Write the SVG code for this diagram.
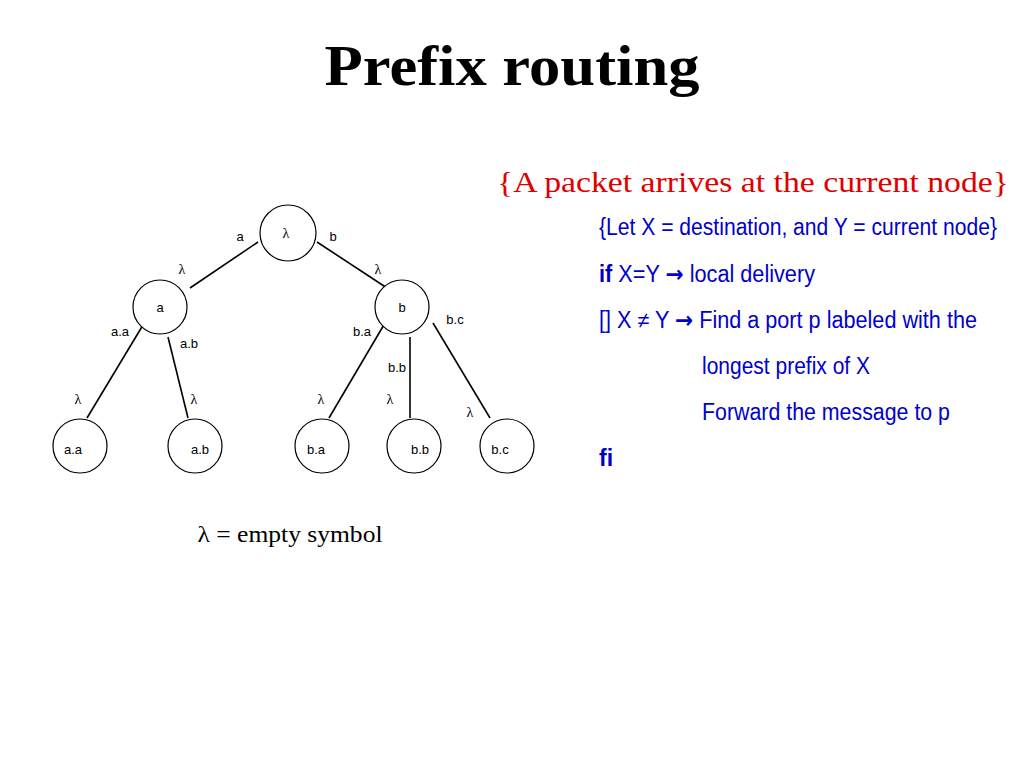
<svg xmlns="http://www.w3.org/2000/svg" width="1024" height="768" viewBox="0 0 1024 768">
<style>
.node{fill:#fff;stroke:#000;stroke-width:1.2}
.edge{stroke:#000;stroke-width:1.6;fill:none}
.lbl{font-family:"Liberation Sans",Arial,sans-serif;font-size:13px;fill:#000;text-anchor:middle}
.lam{font-family:"Liberation Serif","Times New Roman",serif;font-size:14px;fill:#000;text-anchor:middle}
.blue{font-family:"Liberation Sans",Arial,sans-serif;font-size:23px;fill:#0000cc}
.arr{font-family:"DejaVu Sans",sans-serif;font-weight:bold}
</style>
<rect width="1024" height="768" fill="#fff"/>
<text x="512" y="85" text-anchor="middle" font-family="'Liberation Serif','Times New Roman',serif" font-weight="bold" font-size="58" textLength="375" lengthAdjust="spacingAndGlyphs">Prefix routing</text>
<text x="497" y="192" font-family="'Liberation Serif','Times New Roman',serif" font-size="30" fill="#e00000" textLength="512" lengthAdjust="spacingAndGlyphs">{A packet arrives at the current node}</text>

<g id="connectors">
<line class="edge" x1="258" y1="242" x2="190" y2="288"/>
<line class="edge" x1="317" y1="242" x2="387" y2="288"/>
<line class="edge" x1="143" y1="325" x2="87" y2="418"/>
<line class="edge" x1="168" y1="337" x2="188" y2="418"/>
<line class="edge" x1="385" y1="323" x2="329" y2="418"/>
<line class="edge" x1="410" y1="337" x2="410" y2="418"/>
<line class="edge" x1="433" y1="323" x2="490" y2="418"/>
</g>

<g id="edge-labels">
<text class="lbl" x="240" y="241">a</text>
<text class="lbl" x="333" y="241">b</text>
<text class="lam" x="182" y="274">λ</text>
<text class="lam" x="378" y="274">λ</text>
<text class="lbl" x="120" y="336">a.a</text>
<text class="lbl" x="189" y="348">a.b</text>
<text class="lbl" x="362" y="336">b.a</text>
<text class="lbl" x="455" y="324">b.c</text>
<text class="lbl" x="397" y="372">b.b</text>
<text class="lam" x="78" y="404">λ</text>
<text class="lam" x="194" y="404">λ</text>
<text class="lam" x="321" y="404">λ</text>
<text class="lam" x="390" y="404">λ</text>
<text class="lam" x="470" y="417">λ</text>
</g>

<g id="node-root"><circle class="node" cx="288" cy="233" r="28"/><text class="lam" x="286" y="238">λ</text></g>
<g id="node-a"><circle class="node" cx="160" cy="307" r="27"/><text class="lbl" x="160" y="312">a</text></g>
<g id="node-b"><circle class="node" cx="402" cy="307" r="27"/><text class="lbl" x="402" y="312">b</text></g>
<g id="node-aa"><circle class="node" cx="80" cy="446" r="27"/><text class="lbl" x="73" y="454">a.a</text></g>
<g id="node-ab"><circle class="node" cx="195" cy="446" r="27"/><text class="lbl" x="200" y="454">a.b</text></g>
<g id="node-ba"><circle class="node" cx="322" cy="446" r="27"/><text class="lbl" x="316" y="454">b.a</text></g>
<g id="node-bb"><circle class="node" cx="414" cy="446" r="27"/><text class="lbl" x="420" y="454">b.b</text></g>
<g id="node-bc"><circle class="node" cx="507" cy="446" r="27"/><text class="lbl" x="500" y="454">b.c</text></g>

<text x="290" y="542" text-anchor="middle" font-family="'Liberation Serif','Times New Roman',serif" font-size="23" textLength="185" lengthAdjust="spacingAndGlyphs">λ = empty symbol</text>

<text class="blue" x="599" y="235" textLength="398" lengthAdjust="spacingAndGlyphs">{Let X = destination, and Y = current node}</text>
<text class="blue" x="599" y="282" textLength="216" lengthAdjust="spacingAndGlyphs"><tspan font-weight="bold">if</tspan> X=Y <tspan class="arr">→</tspan> local delivery</text>
<text class="blue" x="599" y="328" textLength="378" lengthAdjust="spacingAndGlyphs">[] X ≠ Y <tspan class="arr">→</tspan> Find a port p labeled with the</text>
<text class="blue" x="702" y="374" textLength="168" lengthAdjust="spacingAndGlyphs">longest prefix of X</text>
<text class="blue" x="702" y="420" textLength="248" lengthAdjust="spacingAndGlyphs">Forward  the message to p</text>
<text class="blue" x="599" y="466" font-weight="bold">fi</text>
</svg>
